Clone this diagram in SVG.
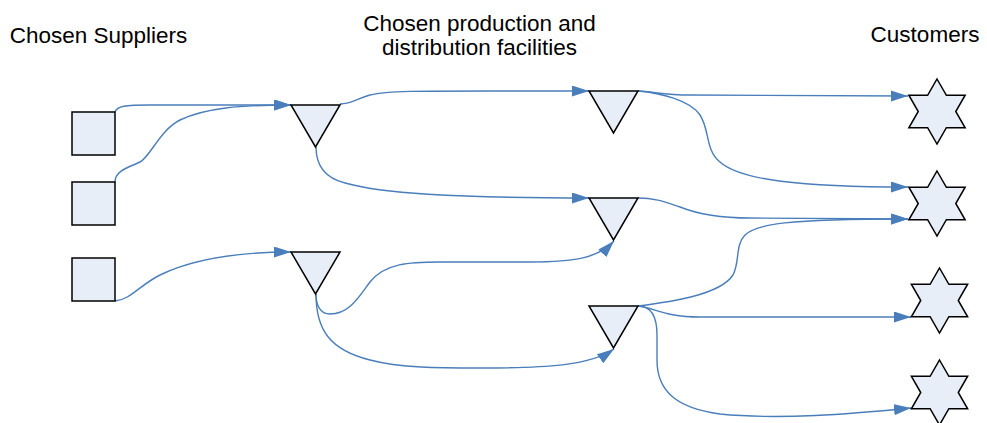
<svg xmlns="http://www.w3.org/2000/svg" xmlns:xlink="http://www.w3.org/1999/xlink" width="987" height="423" viewBox="0 0 987 423">
  <style>
    .label { font-family: "Liberation Sans", Arial, sans-serif; font-size: 22.5px; fill: #000; text-anchor: middle; }
    .node { fill: #E8EEF7; stroke: #000; stroke-width: 1.5; stroke-linejoin: miter; }
    .flow { fill: none; stroke: #4A7EBB; stroke-width: 1.4; marker-end: url(#arrow); }
  </style>
  <defs>
    <marker id="arrow" markerUnits="userSpaceOnUse" markerWidth="18" markerHeight="12" refX="17" refY="5.5" orient="auto">
      <path d="M0,0 L17,5.5 L0,11 z" fill="#4A7EBB"/>
    </marker>
    <!-- six-pointed star centred on the origin -->
    <polygon id="star" points="0,-32.5 9.38,-16.25 28.15,-16.25 18.76,0 28.15,16.25 9.38,16.25 0,32.5 -9.38,16.25 -28.15,16.25 -18.76,0 -28.15,-16.25 -9.38,-16.25"/>
    <!-- downward triangle, top-left corner at origin -->
    <polygon id="tri" points="0,0 49,0 24.5,42"/>
  </defs>

  <rect width="987" height="423" fill="#fff"/>

  <!-- column headings -->
  <text class="label" x="98.5" y="43">Chosen Suppliers</text>
  <text class="label" x="479.5" y="31">Chosen production and</text>
  <text class="label" x="479.5" y="55">distribution facilities</text>
  <text class="label" x="925" y="42">Customers</text>

  <!-- connectors -->
  <g id="connectors">
    <path class="flow" d="M115,112 C117,106 125,105 150,105 L291,105"/>
    <path class="flow" d="M115,182 C115,170 130,167 140,162 C150,157 160,130 180,120 C205,108 240,105 291,105"/>
    <path class="flow" d="M115,301 C130,300 140,285 160,275 C195,258 240,252 291,252"/>
    <path class="flow" d="M340,104 C352,104 358,98 370,95 C390,90 420,91 589,91"/>
    <path class="flow" d="M316,147 C316,165 325,178 345,183 C380,193 450,198 589,198"/>
    <path class="flow" d="M316,294 C316,305 320,314 330,314 C350,314 360,295 370,282 C385,263 410,262 440,262 L530,262 C575,262 598,258 614,241"/>
    <path class="flow" d="M316,294 C316,330 330,350 370,360 C400,368 440,368 480,368 C545,368 590,366 614,349"/>
    <path class="flow" d="M638,91 C655,92 665,95 690,95 L908,96"/>
    <path class="flow" d="M638,91 C660,93 690,100 700,115 C710,130 705,150 720,162 C740,180 800,187 908,187"/>
    <path class="flow" d="M638,198 C655,198 665,202 680,207 C700,215 720,218 750,218 L908,219"/>
    <path class="flow" d="M638,306 C670,302 720,295 733,275 C740,262 735,245 745,235 C757,224 785,219 908,219"/>
    <path class="flow" d="M638,306 C655,308 665,317 700,317 L911,317"/>
    <path class="flow" d="M638,306 C650,306 657,315 657,335 L657,360 C657,390 675,408 720,414 C780,420 850,414 911,408"/>
  </g>

  <!-- suppliers -->
  <g id="supplier-1"><rect class="node" x="72" y="112" width="43" height="43"/></g>
  <g id="supplier-2"><rect class="node" x="72" y="182" width="43" height="43"/></g>
  <g id="supplier-3"><rect class="node" x="72" y="258" width="43" height="43"/></g>

  <!-- production and distribution facilities -->
  <g id="facility-a"><use xlink:href="#tri" class="node" x="291" y="105"/></g>
  <g id="facility-b"><use xlink:href="#tri" class="node" x="291" y="252"/></g>
  <g id="facility-c"><use xlink:href="#tri" class="node" x="589" y="91"/></g>
  <g id="facility-d"><use xlink:href="#tri" class="node" x="589" y="198"/></g>
  <g id="facility-e"><use xlink:href="#tri" class="node" x="589" y="306"/></g>

  <!-- customers -->
  <g id="customer-1"><use xlink:href="#star" class="node" x="937" y="111.5"/></g>
  <g id="customer-2"><use xlink:href="#star" class="node" x="937" y="203.5"/></g>
  <g id="customer-3"><use xlink:href="#star" class="node" x="939.5" y="300.5"/></g>
  <g id="customer-4"><use xlink:href="#star" class="node" x="939.5" y="392.5"/></g>
</svg>
